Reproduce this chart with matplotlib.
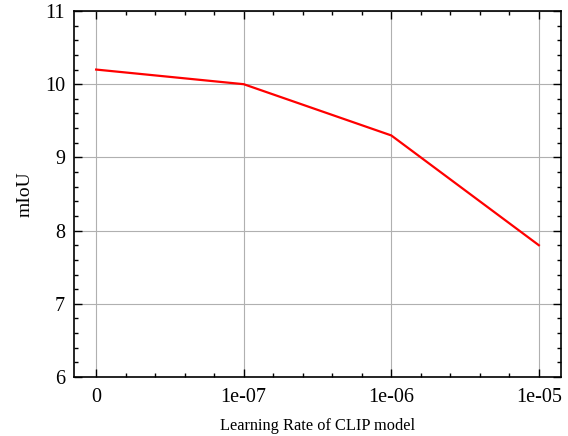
import matplotlib
matplotlib.use("Agg")
import matplotlib.pyplot as plt
from matplotlib.ticker import MultipleLocator, AutoMinorLocator

categories = ["0", "1e-07", "1e-06", "1e-05"]
miou = [10.2, 10.0, 9.3, 7.8]

plt.rcParams['font.family'] = ['Liberation Serif', 'DejaVu Serif']
plt.rcParams['mathtext.fontset'] = 'stix'

fig = plt.figure(figsize=(5.68, 4.36), dpi=100)
L, R, T, B = 74, 561, 11, 377
ax = fig.add_axes([L/568, 1-B/436, (R-L)/568, (B-T)/436])
x = list(range(len(categories)))
ax.plot(x, miou, color='red', linewidth=1.6)
ax.set_xticks(x)
ax.set_xticklabels(categories)
ax.set_ylim(6, 11)
ax.set_xlim(-0.15, 3.15)
ax.yaxis.set_major_locator(MultipleLocator(1))
ax.yaxis.set_minor_locator(AutoMinorLocator(5))
ax.xaxis.set_minor_locator(MultipleLocator(0.2))
ax.grid(True, which='major', color='#b0b0b0', linewidth=0.8)
ax.tick_params(which='both', direction='in', top=True, right=True, labelsize=14.5)
ax.tick_params(which='major', length=5.5, width=1)
ax.tick_params(which='minor', length=3, width=1)
ax.tick_params(axis='x', which='major', pad=8)
ax.tick_params(axis='y', which='major', pad=6.5)
for s in ax.spines.values():
    s.set_linewidth(1.2)
ax.set_xlabel("Learning Rate of CLIP model", fontsize=11.8)
ax.set_ylabel("mIoU", fontsize=14)
ax.xaxis.set_label_coords(0.5, (B-418)/(B-T))
ax.yaxis.set_label_coords((34-L)/(R-L), 0.5)
fig.savefig("out.png", dpi=100)
